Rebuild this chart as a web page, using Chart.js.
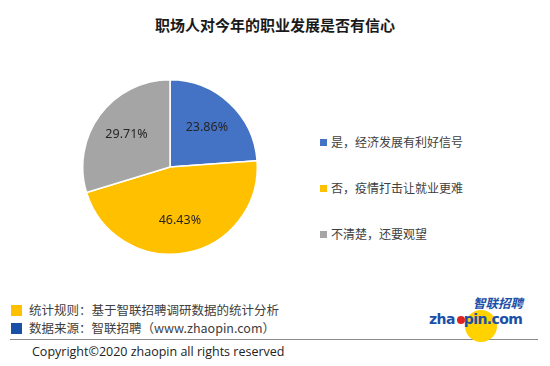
<!DOCTYPE html>
<html>
<head>
<meta charset="utf-8">
<script src="https://cdn.jsdelivr.net/npm/chart.js@4"></script>
<style>
  body { margin: 0; width: 550px; height: 366px; background: #fff; position: relative; overflow: hidden;
         font-family: "Noto Sans CJK SC", "Noto Sans", sans-serif; }
  #title { position: absolute; left: 0; width: 550px; top: 14px; text-align: center;
           font-size: 15px; font-weight: bold; color: #1a1a1a; line-height: 22px; }
  #wrap { position: absolute; left: 80px; top: 77px; width: 180px; height: 180px; }
  #legend { position: absolute; left: 320px; top: 132px; }
  .item { height: 46px; font-size: 12px; color: #404040; line-height: 20px; white-space: nowrap; }
  .item span.box { display: inline-block; width: 7px; height: 7px; margin-right: 4px; vertical-align: 1px; }
  .foot { position: absolute; left: 11px; font-size: 12.5px; color: #404040; line-height: 18px; white-space: nowrap; }
  .foot span.box { display: inline-block; width: 11px; height: 11px; margin-right: 7px; vertical-align: -1px; }
  #rule { position: absolute; left: 10px; width: 528px; top: 339px; height: 1px; background: #8c8c8c; }
  #copy { position: absolute; left: 32px; top: 343px; font-family: "Open Sans", "Noto Sans", sans-serif;
          font-size: 12.5px; color: #222; }
  #logo { position: absolute; left: 428px; top: 296px; width: 110px; height: 42px; }
  #logo .sun { position: absolute; left: 37px; top: 14px; width: 32px; height: 32px; border-radius: 50%; background: #ffd200; }
  #logo .cn { position: absolute; left: 45px; top: 1px; font-size: 12.5px; line-height: 12px; font-weight: bold; font-style: italic;
              color: #1b4fa8; letter-spacing: 0px; }
  #logo .en { position: absolute; left: 1px; top: 17px; font-family: "DejaVu Sans", sans-serif; font-size: 14px; line-height: 13px;
              font-weight: bold; color: #1b4fa8; letter-spacing: -0.6px; }
  #logo .dot { position: absolute; left: 29px; top: 20px; width: 8px; height: 8px; border-radius: 50%; background: #d22; }
</style>
</head>
<body>
<div id="title">职场人对今年的职业发展是否有信心</div>
<div id="wrap"><canvas id="chart"></canvas></div>
<div id="legend"></div>
<div class="foot" style="top:301px"><span class="box" style="background:#ffc000"></span>统计规则：基于智联招聘调研数据的统计分析</div>
<div class="foot" style="top:319px"><span class="box" style="background:#1750a6"></span>数据来源：智联招聘（www.zhaopin.com）</div>
<div id="rule"></div>
<div id="copy">Copyright©2020 zhaopin all rights reserved</div>
<div id="logo">
  <div class="sun"></div>
  <div class="cn">智联招聘</div>
  <div class="en">zha<span style="color:transparent">o</span>pin.com</div>
  <div class="dot"></div>
</div>
<script>
'use strict'

const categories = ['是，经济发展有利好信号', '否，疫情打击让就业更难', '不清楚，还要观望'];
const shares = [23.86, 46.43, 29.71];
const colors = ['#4472c4', '#ffc000', '#a5a5a5'];

const legend = document.getElementById('legend');
categories.forEach((name, i) => {
    const div = document.createElement('div');
    div.className = 'item';
    div.innerHTML = `<span class="box" style="background:${colors[i]}"></span>${name}`;
    legend.appendChild(div);
});

const sliceLabels = {
    id: 'sliceLabels',
    afterDatasetsDraw(chart) {
        const ctx = chart.ctx;
        const meta = chart.getDatasetMeta(0);
        ctx.save();
        ctx.font = '12.5px "Noto Sans", sans-serif';
        ctx.fillStyle = '#262626';
        ctx.textAlign = 'center';
        ctx.textBaseline = 'middle';
        meta.data.forEach((arc, i) => {
            const p = arc.getProps(['x', 'y', 'startAngle', 'endAngle', 'outerRadius']);
            const mid = (p.startAngle + p.endAngle) / 2;
            const d = p.outerRadius * 0.62;
            ctx.fillText(shares[i].toFixed(2) + '%', p.x + Math.cos(mid) * d, p.y + Math.sin(mid) * d);
        });
        ctx.restore();
    }
};

new Chart(document.getElementById('chart'), {
    type: 'pie',
    data: {
        labels: categories,
        datasets: [{
            data: shares,
            backgroundColor: colors,
            borderColor: '#ffffff',
            borderWidth: 1.5
        }]
    },
    options: {
        responsive: true,
        maintainAspectRatio: false,
        animation: false,
        layout: { padding: 2 },
        plugins: {
            legend: { display: false },
            tooltip: { enabled: false }
        }
    },
    plugins: [sliceLabels]
});
</script>
</body>
</html>
